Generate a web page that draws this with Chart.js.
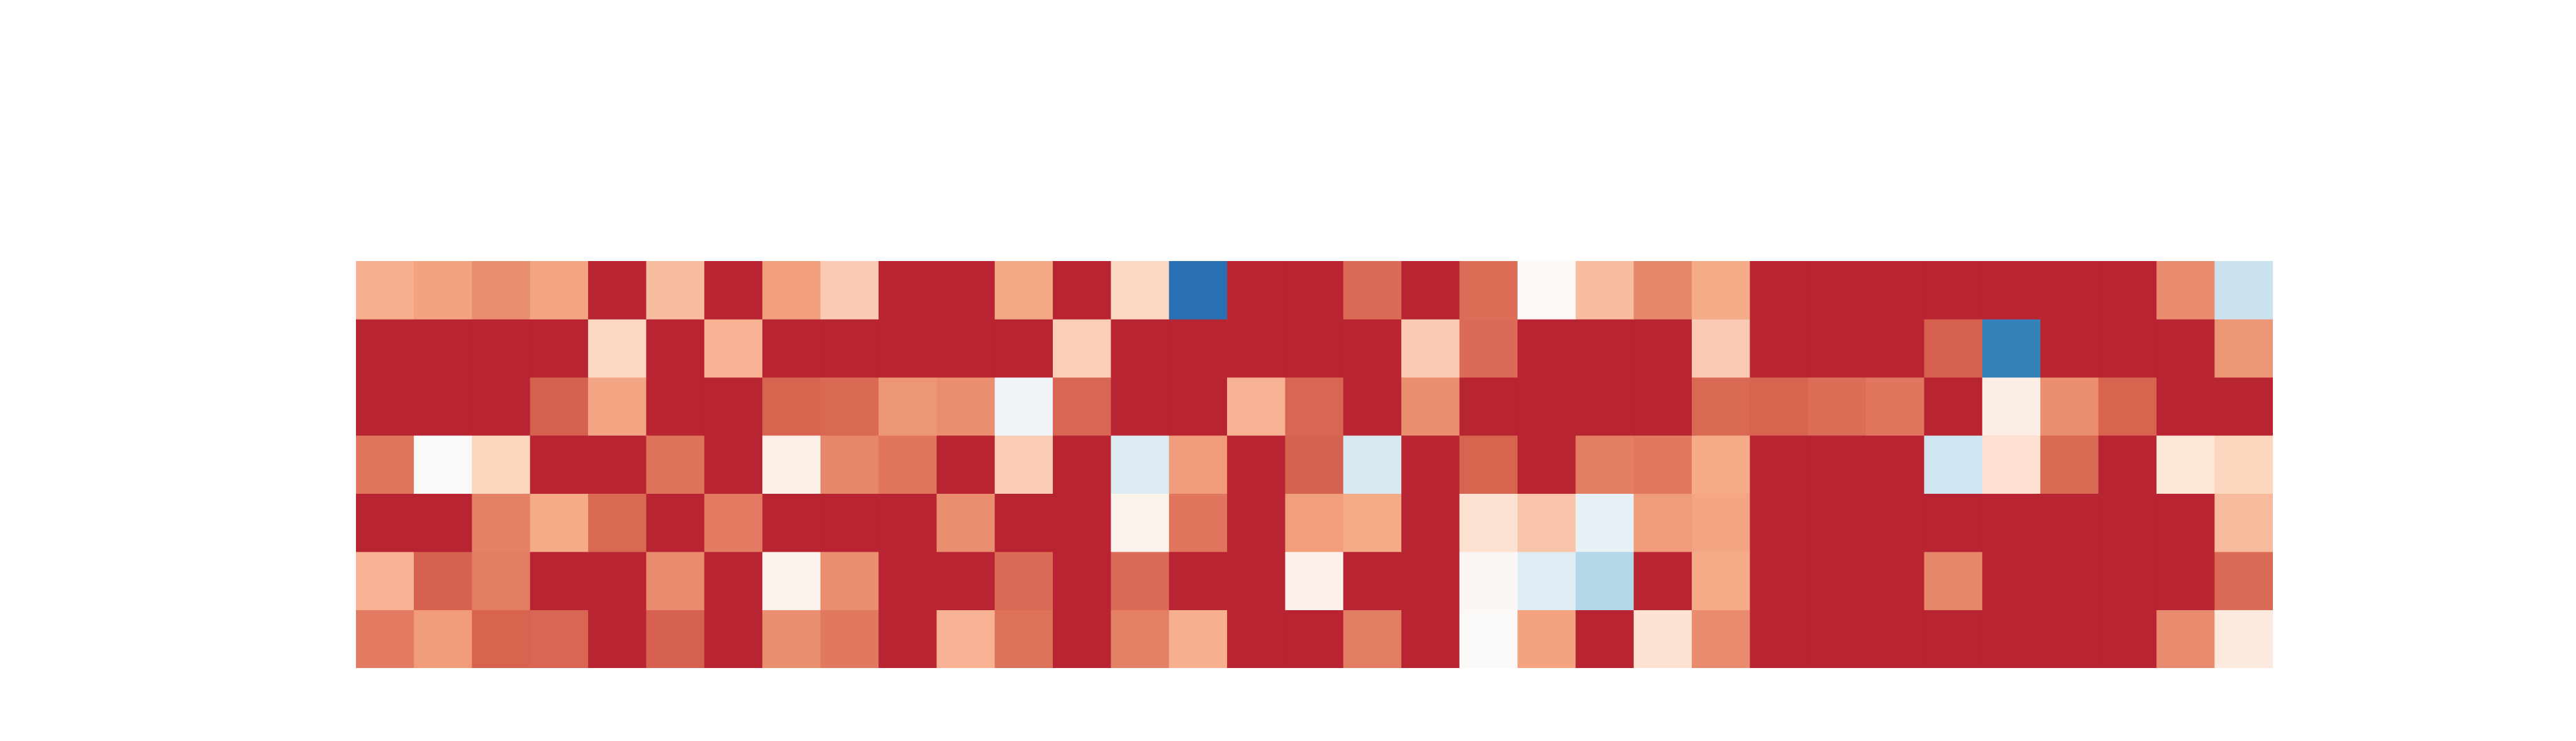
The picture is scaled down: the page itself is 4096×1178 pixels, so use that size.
<!DOCTYPE html>
<html>
<head>
<meta charset="utf-8">
<script src="https://cdn.jsdelivr.net/npm/chart.js@4.4.1/dist/chart.umd.min.js"></script>
<style>
  html, body { margin: 0; padding: 0; background: #ffffff; }
  #wrap { width: 4096px; height: 1178px; }
</style>
</head>
<body>
<div id="wrap"><canvas id="heat" width="4096" height="1178"></canvas></div>
<script>
// columns of the grid (no labels are shown)
const columns = Array.from({ length: 33 }, (_, i) => "c" + (i + 1));

// cell values, top row first; 1 = saturated red end of the scale
const row1 = [0.47, 0.53, 0.61, 0.52, 1, 0.41, 1, 0.55, 0.34, 1, 1, 0.51, 1, 0.28, -0.98, 1, 1, 0.74, 1, 0.73, 0.02, 0.41, 0.64, 0.50, 1, 1, 1, 1, 1, 1, 1, 0.62, -0.29];
const row2 = [1, 1, 1, 1, 0.28, 1, 0.46, 1, 1, 1, 1, 1, 0.32, 1, 1, 1, 1, 1, 0.34, 0.74, 1, 1, 1, 0.34, 1, 1, 1, 0.78, -0.89, 1, 1, 1, 0.58];
const row3 = [1, 1, 1, 0.78, 0.52, 1, 1, 0.77, 0.75, 0.58, 0.61, -0.07, 0.76, 1, 1, 0.46, 0.76, 1, 0.61, 1, 1, 1, 1, 0.75, 0.77, 0.73, 0.70, 1, 0.10, 0.61, 0.77, 1, 1];
const row4 = [0.70, -0.01, 0.29, 1, 1, 0.71, 1, 0.09, 0.64, 0.70, 1, 0.33, 1, -0.19, 0.56, 1, 0.78, -0.22, 1, 0.77, 1, 0.67, 0.69, 0.50, 1, 1, 1, -0.26, 0.22, 0.75, 1, 0.17, 0.29];
const row5 = [1, 1, 0.66, 0.50, 0.75, 1, 0.68, 1, 1, 1, 0.61, 1, 1, 0.07, 0.70, 1, 0.55, 0.50, 1, 0.21, 0.37, -0.13, 0.56, 0.52, 1, 1, 1, 1, 1, 1, 1, 1, 0.42];
const row6 = [0.46, 0.78, 0.67, 1, 1, 0.62, 1, 0.07, 0.61, 1, 1, 0.74, 1, 0.74, 1, 1, 0.08, 1, 1, 0.03, -0.18, -0.38, 1, 0.50, 1, 1, 1, 0.64, 1, 1, 1, 1, 0.74];
const row7 = [0.68, 0.56, 0.77, 0.76, 1, 0.78, 1, 0.61, 0.69, 1, 0.46, 0.71, 1, 0.66, 0.47, 1, 1, 0.67, 1, 0.01, 0.53, 1, 0.20, 0.62, 1, 1, 1, 1, 1, 1, 1, 0.62, 0.14];

const rows = [row1, row2, row3, row4, row5, row6, row7];

// RdBu-like anchors (red -> blue), centre a touch brighter as in the picture
const rdbu = [
  [103, 0, 31], [178, 24, 43], [214, 96, 77], [244, 165, 130], [253, 219, 199],
  [251, 250, 249], [209, 229, 240], [146, 197, 222], [67, 147, 195], [33, 102, 172], [5, 48, 97]
];

function cellColor(v) {
  const c = Math.max(-1, Math.min(1, v));
  const pos = 0.5 - 0.383 * c;
  const x = pos * 10;
  const i = Math.min(9, Math.floor(x));
  const f = x - i;
  const a = rdbu[i], b = rdbu[i + 1];
  const rgb = a.map((q, k) => Math.round(q + (b[k] - q) * f));
  return "rgb(" + rgb.join(",") + ")";
}

const datasets = rows.map((vals, r) => ({
  label: "row " + (r + 1),
  data: vals.map(() => [rows.length - r - 1, rows.length - r]),
  backgroundColor: vals.map(cellColor),
  borderWidth: 0,
  barPercentage: 1,
  categoryPercentage: 1,
  grouped: false
}));

new Chart(document.getElementById("heat"), {
  type: "bar",
  data: { labels: columns, datasets: datasets },
  options: {
    responsive: false,
    animation: false,
    devicePixelRatio: 1,
    layout: { padding: { left: 566, right: 482, top: 415, bottom: 116 } },
    plugins: { legend: { display: false }, tooltip: { enabled: false } },
    scales: {
      x: { display: false, offset: true, grid: { display: false } },
      y: { display: false, min: 0, max: 7, grid: { display: false } }
    }
  }
});
</script>
</body>
</html>
